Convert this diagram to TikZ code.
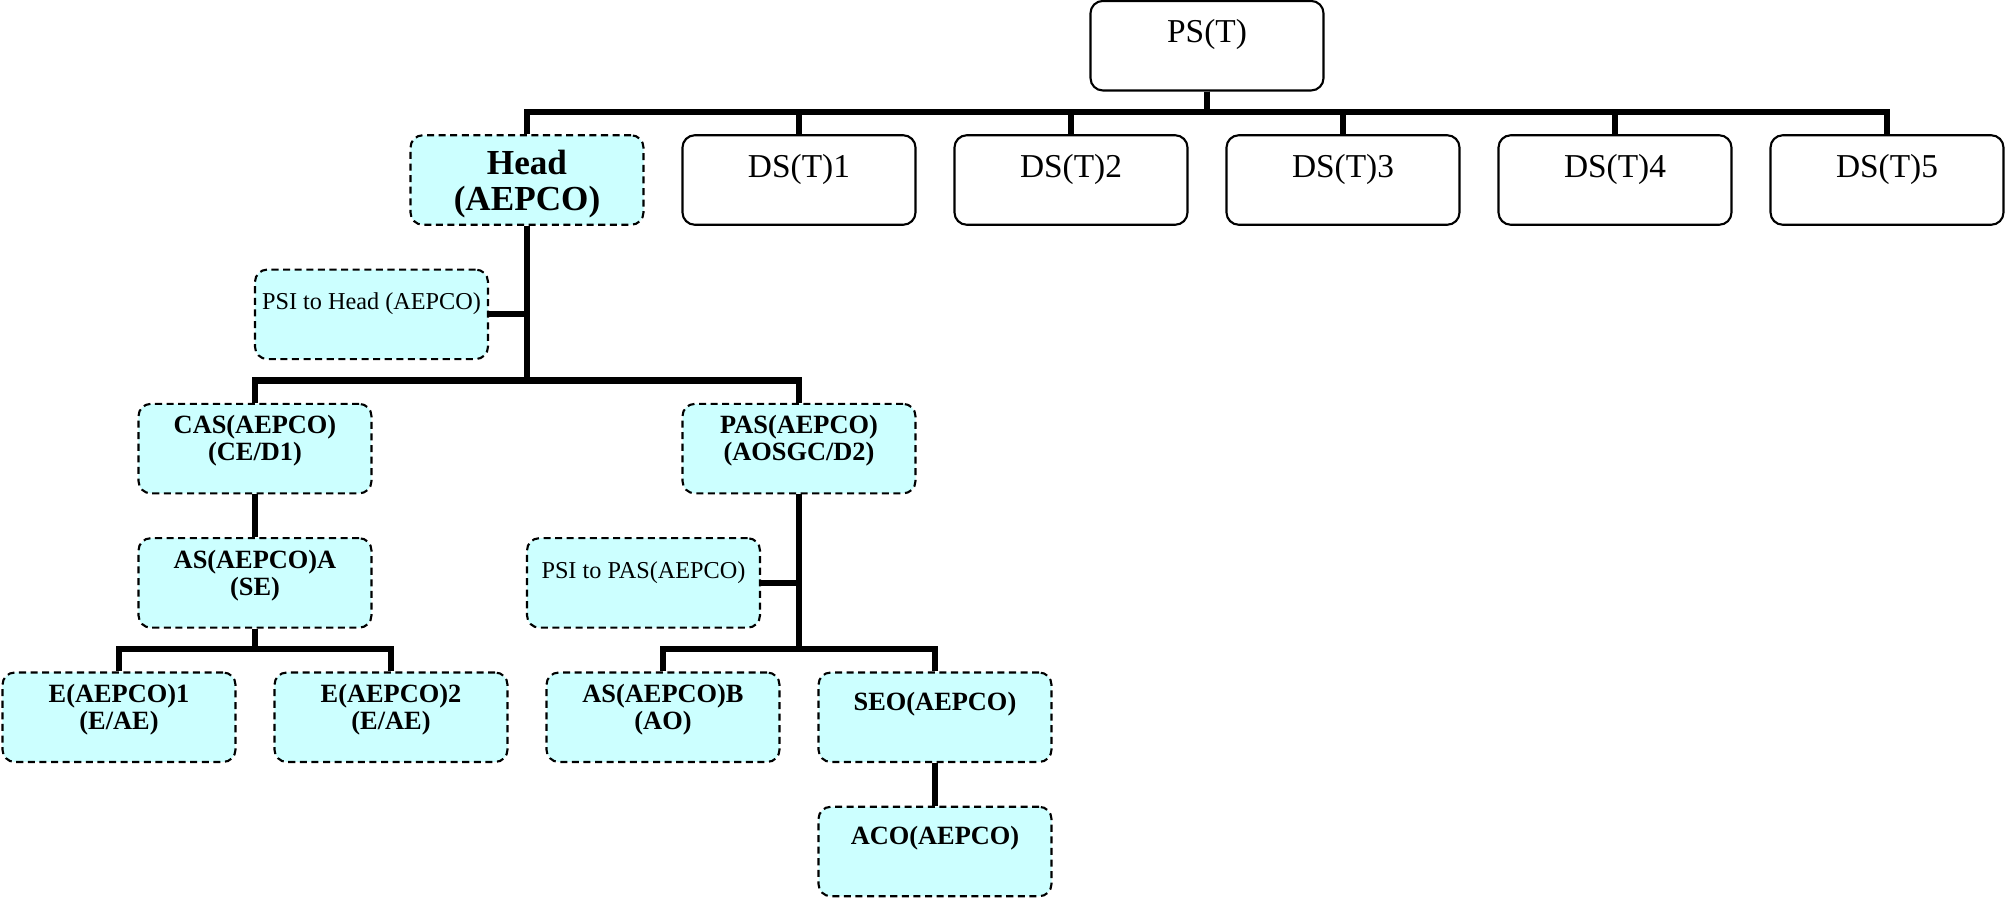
\documentclass[tikz,border=0pt]{standalone}
\usepackage{fontspec}
\setmainfont{Liberation Serif}
\usetikzlibrary{positioning,calc}

\definecolor{paleblue}{HTML}{CCFFFF}

\begin{document}
\begin{tikzpicture}[line width=1.8pt,on grid,node distance=1.343cm and 2.72cm]
    \tikzstyle{post}=[rectangle, rounded corners=3.5pt, draw, line width=0.6pt, minimum width=2.33cm, minimum height=0.895cm, inner sep=0pt, align=center, text height=0.42cm, text depth=0.475cm, font=\fontsize{9.5}{11}\selectfont]
    \tikzstyle{unit}=[post, fill=paleblue, dash pattern=on 2pt off 1.3pt, font=\bfseries\fontsize{7.5}{7.7}\selectfont, text height=0.57cm, text depth=0.325cm]
    \tikzstyle{single}=[unit, text height=0.38cm, text depth=0.515cm]
    \tikzstyle{psi}=[unit, font=\fontsize{6.9}{8}\selectfont, text height=0.4cm, text depth=0.495cm]
    \tikzstyle{branch}=[to path={(\tikztostart.south) |- ([yshift=0.224cm]\tikztotarget.north) -- (\tikztotarget.north)}]
    \tikzstyle{side}=[to path={(\tikztostart.east) -- (\tikztostart.east -| \tikztotarget)}]

    \useasboundingbox (-5.27,-7.17) rectangle (14.79,1.80);

    \node[unit, font=\bfseries\fontsize{10}{10.2}\selectfont, text height=0.75cm, text depth=0.145cm] (head) {Head\\(AEPCO)};
    \node[post]   (ds1) [right=of head] {DS(T)1};
    \node[post]   (ds2) [right=of ds1] {DS(T)2};
    \node[post]   (ds3) [right=of ds2] {DS(T)3};
    \node[post]   (ds4) [right=of ds3] {DS(T)4};
    \node[post]   (ds5) [right=of ds4] {DS(T)5};
    \node[post]   (ps) [above right=1.343cm and 1.36cm of ds2] {PS(T)};

    \node[psi]    (psihead) [below left=1.343cm and 1.555cm of head] {PSI to Head (AEPCO)};
    \node[unit]   (cas) [below left=2.686cm and 2.72cm of head] {CAS(AEPCO)\\(CE/D1)};
    \node[unit]   (pas) [below=2.686cm of ds1] {PAS(AEPCO)\\(AOSGC/D2)};

    \node[unit]   (asa) [below=of cas] {AS(AEPCO)A\\(SE)};
    \node[unit]   (e1) [below left=1.343cm and 1.36cm of asa] {E(AEPCO)1\\(E/AE)};
    \node[unit]   (e2) [below right=1.343cm and 1.36cm of asa] {E(AEPCO)2\\(E/AE)};

    \node[psi]    (psipas) [below left=1.343cm and 1.555cm of pas] {PSI to PAS(AEPCO)};
    \node[unit]   (asb) [below left=2.686cm and 1.36cm of pas] {AS(AEPCO)B\\(AO)};
    \node[single] (seo) [below right=2.686cm and 1.36cm of pas] {SEO(AEPCO)};
    \node[single] (aco) [below=of seo] {ACO(AEPCO)};

    \path (ps) edge[branch] (head) edge[branch] (ds1) edge[branch] (ds2)
               edge[branch] (ds3) edge[branch] (ds4) edge[branch] (ds5);
    \path (head) edge[branch] (cas) edge[branch] (pas);
    \path (psihead) edge[side] (head);
    \path (cas) edge[branch] (asa);
    \path (asa) edge[branch] (e1) edge[branch] (e2);
    \path (pas) edge[branch] (asb) edge[branch] (seo);
    \path (psipas) edge[side] (pas);
    \path (seo) edge[branch] (aco);
\end{tikzpicture}
\end{document}
